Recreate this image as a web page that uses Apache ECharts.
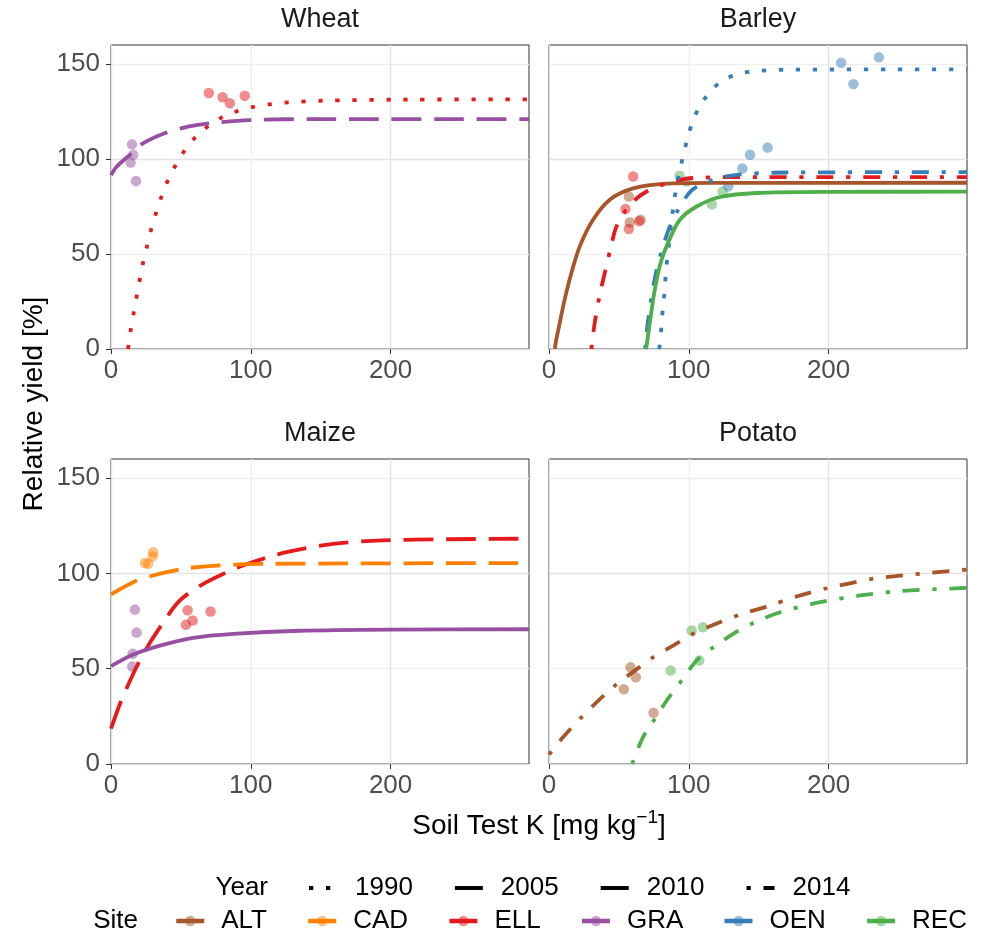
<!DOCTYPE html>
<html>
<head>
<meta charset="utf-8">
<script src="https://cdn.jsdelivr.net/npm/echarts@6/dist/echarts.min.js"></script>
<style>
html,body{margin:0;padding:0;background:#fff;}
#chart{width:987px;height:938px;}
</style>
</head>
<body>
<div id="chart"></div>
<script>
// ---------- data ----------
const panels = ['Wheat', 'Barley', 'Maize', 'Potato'];
const sites = ['ALT', 'CAD', 'ELL', 'GRA', 'OEN', 'REC'];
const years = ['1990', '2005', '2010', '2014'];
const xTicks = [0, 100, 200];
const yTicks = [0, 50, 100, 150];
const xMax = 299;
const yMax = 160;

// fitted curves [soil test K, relative yield]
const wheatEll1990 = [[12.2,0],[14,9.6],[16.2,18.8],[18.3,27.5],[20.5,36.3],[22.9,45.3],[25.7,53.9],[28.6,62.6],[32.1,71.4],[35.9,79.8],[40.5,88.4],[45.9,96.3],[52.4,104.2],[60,111.2],[69,117],[79.3,121.9],[90.5,125.3],[102.4,127.5],[114.5,128.9],[126.9,129.8],[151.7,130.7],[200,131.2],[299,131.4]];
const wheatGra2010 = [[0,91.5],[4,95.9],[14.8,103],[23.1,108.3],[39.8,113.9],[55,117],[70.7,118.8],[99.3,120.5],[150,121],[299,121]];
const barleyAlt2005 = [[4.2,0],[4.8,3.3],[7.7,13.8],[11.2,26],[16,40],[22,54],[31.5,68],[43.5,78.6],[60.2,84.5],[84,87],[120,87.4],[299,87.5]];
const barleyEll2014 = [[30.3,0],[32.7,13.8],[36.3,28.6],[39.9,40],[44,52.8],[48.3,64.5],[57.8,75.9],[69.8,82.9],[86.5,87.7],[103.2,90],[150,90.5],[299,90.5]];
const barleyOen1990 = [[78.8,0],[79.8,5],[80.5,13.8],[81.7,22.9],[82.9,32.2],[83.6,40.9],[85,49.8],[86.5,58.8],[87.7,68],[89.3,76.8],[91.2,85.5],[93.6,94.3],[96.5,103],[99.4,111.8],[103.2,120.6],[108.5,128.5],[115.6,135.8],[124.6,141.5],[136.1,144.9],[148.6,146.3],[170,147],[299,147.2]];
const barleyOen2014 = [[68.8,0],[70.5,13],[76.2,39],[84.8,61.3],[92.4,73.3],[102.5,83.8],[117.5,89],[134.2,91.7],[170,92.9],[299,93.1]];
const barleyRec2005 = [[69.5,0],[72.1,13.8],[75.7,31.3],[79.8,45.3],[85.2,56],[93.6,68],[105.6,75],[122.3,80],[148.6,82.1],[200,82.7],[299,82.8]];
const maizeEll2010 = [[0,18.5],[6.4,31.5],[13.6,43.7],[23.1,57.8],[35,71.7],[49.3,85.8],[68.3,95.4],[94.5,104.1],[125.5,111.1],[158.8,115.5],[194.5,117.3],[240,117.9],[299,118.2]];
const maizeCad2010 = [[0,89],[15.9,95.4],[30.2,98.9],[51.7,102.4],[75.5,104.1],[110,105],[299,105.4]];
const maizeGra2005 = [[0,51.3],[15.9,57.4],[35,62.1],[58.8,66.2],[87.4,68.3],[135,69.9],[200,70.5],[299,70.7]];
const potatoAlt2014 = [[0,5],[8.9,13.1],[23.2,24.5],[31.5,30.6],[47.8,41.5],[61.4,49],[74.5,56],[88.8,62.1],[103.2,68.3],[122.3,74.4],[136.6,78.4],[155.7,82.6],[177.2,87.9],[198.7,92.2],[232.1,97.2],[265.5,99.8],[299,102]];
const potatoRec2014 = [[59.5,0],[65,10.5],[69.8,17.5],[75.7,23.6],[84.1,33.2],[94.8,43.7],[105.6,54.3],[117.5,61.2],[131.8,68.3],[146.1,74],[165.3,79.6],[193.9,84.9],[222.6,88.4],[251.3,90.7],[299,92.4]];

// observed points
const wheatEllPts = [[70,134.7],[79.8,132.5],[85,129.3],[95.7,133.3]];
const wheatGraPts = [[15,107.7],[15.9,102.3],[14,98.1],[17.9,88.4]];
const barleyAltPts = [[57.1,80.3],[57.8,66.6],[65.5,68]];
const barleyEllPts = [[60.2,90.8],[54.7,73.7],[57.1,63.2],[64.5,67.2]];
const barleyRecPts = [[93.4,91.2],[98.4,88.2],[116.5,76.1],[124.2,82.9]];
const barleyOenPts = [[128.2,85.7],[138.3,95],[143.8,102.2],[156.4,106],[209,150.7],[217.8,139.4],[236,153.5]];
const maizeCadPts = [[30.2,111.1],[29.8,108.9],[24.3,105.4],[26.6,105]];
const maizeGraPts = [[17.1,81],[18.3,69],[15.5,57.8],[15.2,51.1]];
const maizeEllPts = [[54.8,80.7],[71.2,80],[58.4,75.3],[53.6,73]];
const potatoAltPts = [[58.3,50.7],[62.1,45.5],[53.5,39.2],[74.8,26.9]];
const potatoRecPts = [[102,70],[110.1,71.7],[107.5,54.3],[87,49]];

const curves = [
  {p:0, site:'ELL', year:'1990', data: wheatEll1990},
  {p:0, site:'GRA', year:'2010', data: wheatGra2010},
  {p:1, site:'ALT', year:'2005', data: barleyAlt2005},
  {p:1, site:'ELL', year:'2014', data: barleyEll2014},
  {p:1, site:'OEN', year:'1990', data: barleyOen1990},
  {p:1, site:'OEN', year:'2014', data: barleyOen2014},
  {p:1, site:'REC', year:'2005', data: barleyRec2005},
  {p:2, site:'ELL', year:'2010', data: maizeEll2010},
  {p:2, site:'CAD', year:'2010', data: maizeCad2010},
  {p:2, site:'GRA', year:'2005', data: maizeGra2005},
  {p:3, site:'ALT', year:'2014', data: potatoAlt2014},
  {p:3, site:'REC', year:'2014', data: potatoRec2014}
];
const pointSets = [
  {p:0, site:'ELL', data: wheatEllPts},
  {p:0, site:'GRA', data: wheatGraPts},
  {p:1, site:'ALT', data: barleyAltPts},
  {p:1, site:'ELL', data: barleyEllPts},
  {p:1, site:'REC', data: barleyRecPts},
  {p:1, site:'OEN', data: barleyOenPts},
  {p:2, site:'CAD', data: maizeCadPts},
  {p:2, site:'GRA', data: maizeGraPts},
  {p:2, site:'ELL', data: maizeEllPts},
  {p:3, site:'ALT', data: potatoAltPts},
  {p:3, site:'REC', data: potatoRecPts}
];

// ---------- styles ----------
const FONT = '"Liberation Sans", Arial, Helvetica, sans-serif';
const siteColor = {ALT:'#A65628', CAD:'#FF7F00', ELL:'#E41A1C', GRA:'#984EA3', OEN:'#377EB8', REC:'#4DAF4A'};
const yearDash = {'1990':[4.25,12.75], '2005':'solid', '2010':[29.75,12.75], '2014':[4.25,12.75,17,12.75]};
const LW = 3.8;
const gridBoxes = [
  {left:111, top:45, width:418, height:304},
  {left:549, top:45, width:418, height:304},
  {left:111, top:459, width:418, height:305},
  {left:549, top:459, width:418, height:305}
];
const gridLineColors = ['#e2e2e2', '#efefef'];

const grids = gridBoxes.map(g => Object.assign({show:true, borderColor:'#333', borderWidth:1, backgroundColor:'transparent'}, g));
const xAxes = panels.map((_, i) => ({
  gridIndex:i, type:'value', min:0, max:xMax, interval:50,
  axisLine:{show:false},
  axisTick:{show:true, customValues:xTicks, length:5, lineStyle:{color:'#333', width:1}},
  axisLabel:{customValues:xTicks, fontSize:26, color:'#4d4d4d', margin:9, fontFamily:FONT},
  splitLine:{show:true, lineStyle:{color:gridLineColors, width:1.4}}
}));
const yAxes = panels.map((_, i) => ({
  gridIndex:i, type:'value', min:0, max:yMax, interval:25,
  axisLine:{show:false},
  axisTick:{show: i % 2 === 0, customValues:yTicks, length:5, lineStyle:{color:'#333', width:1}},
  axisLabel:{show: i % 2 === 0, customValues:yTicks, fontSize:26, color:'#4d4d4d', margin:11, fontFamily:FONT},
  splitLine:{show:true, lineStyle:{color:gridLineColors, width:1.4}}
}));

const series = [];
pointSets.forEach(ps => {
  series.push({
    type:'scatter', name: ps.site + ' obs', xAxisIndex:ps.p, yAxisIndex:ps.p,
    data: ps.data, symbol:'circle', symbolSize:10.5, silent:true, z:2,
    itemStyle:{color: siteColor[ps.site], opacity:0.5}
  });
});
curves.forEach(c => {
  series.push({
    type:'line', name: c.site + ' ' + c.year, xAxisIndex:c.p, yAxisIndex:c.p,
    data: c.data, smooth:0.3, symbol:'none', showSymbol:false,
    silent:true, z:3, clip:true,
    lineStyle:{color: siteColor[c.site], width:LW, type: yearDash[c.year], cap:'butt', join:'round'}
  });
});
// legend-only series
years.forEach(y => {
  series.push({type:'line', name:y, xAxisIndex:0, yAxisIndex:0, data:[], symbol:'circle',
    itemStyle:{color:'#000', opacity:0}, lineStyle:{color:'#000', width:LW, type: yearDash[y], cap:'butt'}});
});
sites.forEach(s => {
  series.push({type:'line', name:s, xAxisIndex:0, yAxisIndex:0, data:[], symbol:'circle', symbolSize:10,
    itemStyle:{color: siteColor[s], opacity:0.5}, lineStyle:{color: siteColor[s], width:LW, type:'solid'}});
});

const legendText = {fontSize:26, color:'#000', fontFamily:FONT, padding:[0,0,0,13], lineHeight:30};
const legendTextSite = {fontSize:26, color:'#000', fontFamily:FONT, padding:[0,0,0,12], lineHeight:30};
const legends = [
  {data: years, left:307, top:873, orient:'horizontal', itemWidth:28, itemHeight:12, itemGap:40, padding:0,
   selectedMode:false, textStyle: legendText, itemStyle:{opacity:0}, lineStyle:{width:4}},
  {data: sites, left:174, top:906, orient:'horizontal', itemWidth:28, itemHeight:13, itemGap:39, padding:0,
   selectedMode:false, textStyle: legendTextSite, itemStyle:{opacity:0.5}, lineStyle:{width:4.5}}
];

const stripPos = [[320,20],[758,20],[320,434],[758,434]];
const graphics = panels.map((p, i) => ({
  type:'text', x: stripPos[i][0], y: stripPos[i][1], silent:true,
  style:{text:p, fill:'#1a1a1a', font:'27px ' + FONT, align:'center', verticalAlign:'middle'}
}));
graphics.push({type:'text', x:34, y:404, rotation:Math.PI/2, silent:true,
  style:{text:'Relative yield [%]', fill:'#000', font:'28px ' + FONT, align:'center', verticalAlign:'middle'}});
graphics.push({type:'text', x:539, y:826, silent:true,
  style:{text:'{n|Soil Test K [mg kg}{s|\u22121}{n|]}', align:'center', verticalAlign:'middle',
    rich:{n:{fontSize:28, lineHeight:36, fontFamily:FONT, fill:'#000', color:'#000'},
          s:{fontSize:19, lineHeight:19, verticalAlign:'top', fontFamily:FONT, fill:'#000', color:'#000'}}}});
graphics.push({type:'text', x:268, y:888, silent:true,
  style:{text:'Year', fill:'#000', font:'26px ' + FONT, align:'right', verticalAlign:'middle'}});
graphics.push({type:'text', x:138, y:921, silent:true,
  style:{text:'Site', fill:'#000', font:'26px ' + FONT, align:'right', verticalAlign:'middle'}});

const chart = echarts.init(document.getElementById('chart'), null, {renderer:'canvas'});
chart.setOption({
  animation:false,
  backgroundColor:'#fff',
  grid: grids,
  xAxis: xAxes,
  yAxis: yAxes,
  legend: legends,
  graphic: graphics,
  series: series
});
</script>
</body>
</html>
